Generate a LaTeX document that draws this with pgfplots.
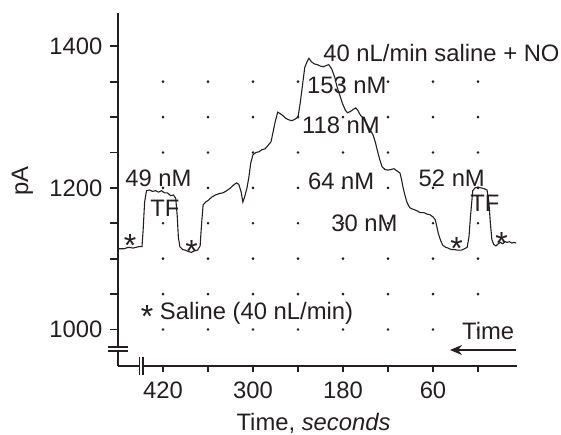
\documentclass[border=0pt]{standalone}
\usepackage{fontspec}
\setmainfont{Liberation Sans}
\usepackage{pgfplots}
\usepackage{pgfplotstable}
\pgfplotsset{compat=1.18}
\usetikzlibrary{arrows.meta}
\definecolor{ink}{RGB}{35,31,32}

% current trace, time counts down to the right
\pgfplotstableread{
t pA
480 1114
472 1114
466 1116
460 1115
452 1117
448 1117
446.5 1140
444.5 1180
442 1196
438 1197
434 1195
430 1196
426 1194
422 1196
418 1193
414 1193
410 1189
406 1190
403 1185
401 1160
399.5 1130
397.5 1117
394 1113
390 1112
386 1110
382 1109
378 1111
374 1112
370.5 1118
368.5 1150
366.5 1176
363 1180
359 1183
355 1187
350 1190
345 1192
340 1193
335 1196
330 1200
326 1204
322 1207
319 1205
316 1195
313.5 1180
311 1188
308 1200
305.5 1215
303 1235
300 1247
296 1250
292 1251
288 1254
284 1255
280 1260
276 1265
273 1280
270.5 1293
267 1307
264 1305
260 1302
256 1298
252 1296
248 1295
244 1297
240 1300
237 1320
234 1345
231 1370
228 1378
225.5 1383
222 1378
218 1375
214 1374
210 1372
206 1371
202 1373
199 1374
195 1368
191 1356
188 1343
184 1330
181 1320
177 1310
174 1306
170 1308
166 1311
163 1313
160 1309
157 1303
152 1297
148 1290
144 1282
140 1275
137 1265
134.5 1254
131 1240
128 1230
124 1226
120 1225
116 1226
112 1227
108 1224
104 1221
102 1212
100 1201
97 1188
94.5 1179
91 1172
87 1170
82 1168
77 1165
72 1165
68 1163
64 1162
60 1159
57 1155
55 1146
53 1136
50 1126
47 1119
43 1116
40 1115
36 1113
32 1113
27 1112
22 1112
18 1114
14.5 1116
12 1131
10 1160
7 1196
4 1200
0 1201
-4 1200
-8 1199
-12 1197
-14.5 1180
-16.5 1150
-18.5 1127
-21 1120
-24 1118
-27 1121
-30 1123
-33 1121
-36 1124
-39 1123
-42 1124
-45 1122
-48 1123
-51 1122
}\trace

\newcommand{\bigast}{{\fontsize{16}{16}\selectfont *}}

\begin{document}
\begin{tikzpicture}[font=\fontsize{11.9}{14}\selectfont, color=ink]
\useasboundingbox (-59pt,-34pt) rectangle (221.5pt,183pt);
\begin{axis}[
    scale only axis,
    width=199.5pt, height=176.5pt,
    x dir=reverse,
    xmin=-52, xmax=480,
    ymin=948.4, ymax=1447,
    axis x line*=bottom,
    axis y line*=left,
    axis line style={-, line width=0.9pt, ink},
    tick align=outside,
    tick style={line width=0.9pt, ink},
    xtick={0,60,120,180,240,300,360,420},
    xticklabels={,60,,180,,300,,420},
    ytick={1000,1050,1100,1150,1200,1250,1300,1350,1400},
    yticklabels={1000,,,,1200,,,,1400},
    xtick style={/pgfplots/major tick length=3pt},
    ytick style={/pgfplots/major tick length=4pt},
    /pgf/number format/assume math mode=true,
    xlabel={Time, \textit{seconds}},
    ylabel={pA},
    every axis x label/.style={at={(axis description cs:0.49,0)}, yshift=-32pt, anchor=base},
    every axis y label/.style={at={(axis description cs:0,0.524)}, xshift=-47.75pt, rotate=90, anchor=center},
    clip=false,
]
% dotted grid
\pgfplotsinvokeforeach{0,60,120,180,240,300,360,420}{
  \addplot[only marks, mark=*, mark size=0.45pt, ink] coordinates {
    (#1,1000) (#1,1050) (#1,1100) (#1,1150) (#1,1200) (#1,1250) (#1,1300) (#1,1350)};
}
\addplot[ink, line width=0.55pt, mark=none] table[x=t, y=pA] {\trace};

% annotations
\begin{scope}[every node/.style={inner xsep=0pt}]
\node[anchor=base west] at (axis cs:206.7,1378.8) {40 nL/min saline + NO};
\node[anchor=base west] at (axis cs:228.4,1332.9) {153 nM};
\node[anchor=base west] at (axis cs:235.1,1277.3) {118 nM};
\node[anchor=base west] at (axis cs:227.1,1198) {64 nM};
\node[anchor=base west] at (axis cs:196,1137.8) {30 nM};
\node[anchor=base west] at (axis cs:79.6,1201.8) {52 nM};
\node[anchor=base west] at (axis cs:10.7,1166.5) {TF};
\node[anchor=base west] at (axis cs:470.7,1201.8) {49 nM};
\node[anchor=base west] at (axis cs:437.3,1159.4) {TF};
\node[anchor=base] at (axis cs:464,1103.3) {\bigast};
\node[anchor=base] at (axis cs:381.8,1094.8) {\bigast};
\node[anchor=base] at (axis cs:28.4,1098.3) {\bigast};
\node[anchor=base] at (axis cs:-31.6,1105.4) {\bigast};
\node[anchor=base west] at (axis cs:450,1014.4) {\raisebox{-4.2pt}{\bigast} Saline (40 nL/min)};
\node[anchor=base west] at (axis cs:21.7,985.2) {Time};
\end{scope}
\draw[-{Stealth[length=6pt,width=5pt]}, line width=0.8pt] (axis cs:-50.3,971) -- (axis cs:37.3,971);

% axis breaks
\fill[white] ([xshift=-2pt]axis cs:480,969.6) rectangle ([xshift=2pt]axis cs:480,975.3);
\draw[line width=0.8pt] ([xshift=-5pt]axis cs:480,969.6) -- ([xshift=5pt]axis cs:480,969.6);
\draw[line width=0.8pt] ([xshift=-5pt]axis cs:480,975.3) -- ([xshift=5pt]axis cs:480,975.3);
\fill[white] ([yshift=-2pt]axis cs:451.3,948.4) rectangle ([yshift=2pt]axis cs:446.7,948.4);
\draw[line width=0.8pt] ([yshift=-4.5pt]axis cs:451.3,948.4) -- ([yshift=4.5pt]axis cs:451.3,948.4);
\draw[line width=0.8pt] ([yshift=-4.5pt]axis cs:446.7,948.4) -- ([yshift=4.5pt]axis cs:446.7,948.4);
\end{axis}
\end{tikzpicture}
\end{document}
